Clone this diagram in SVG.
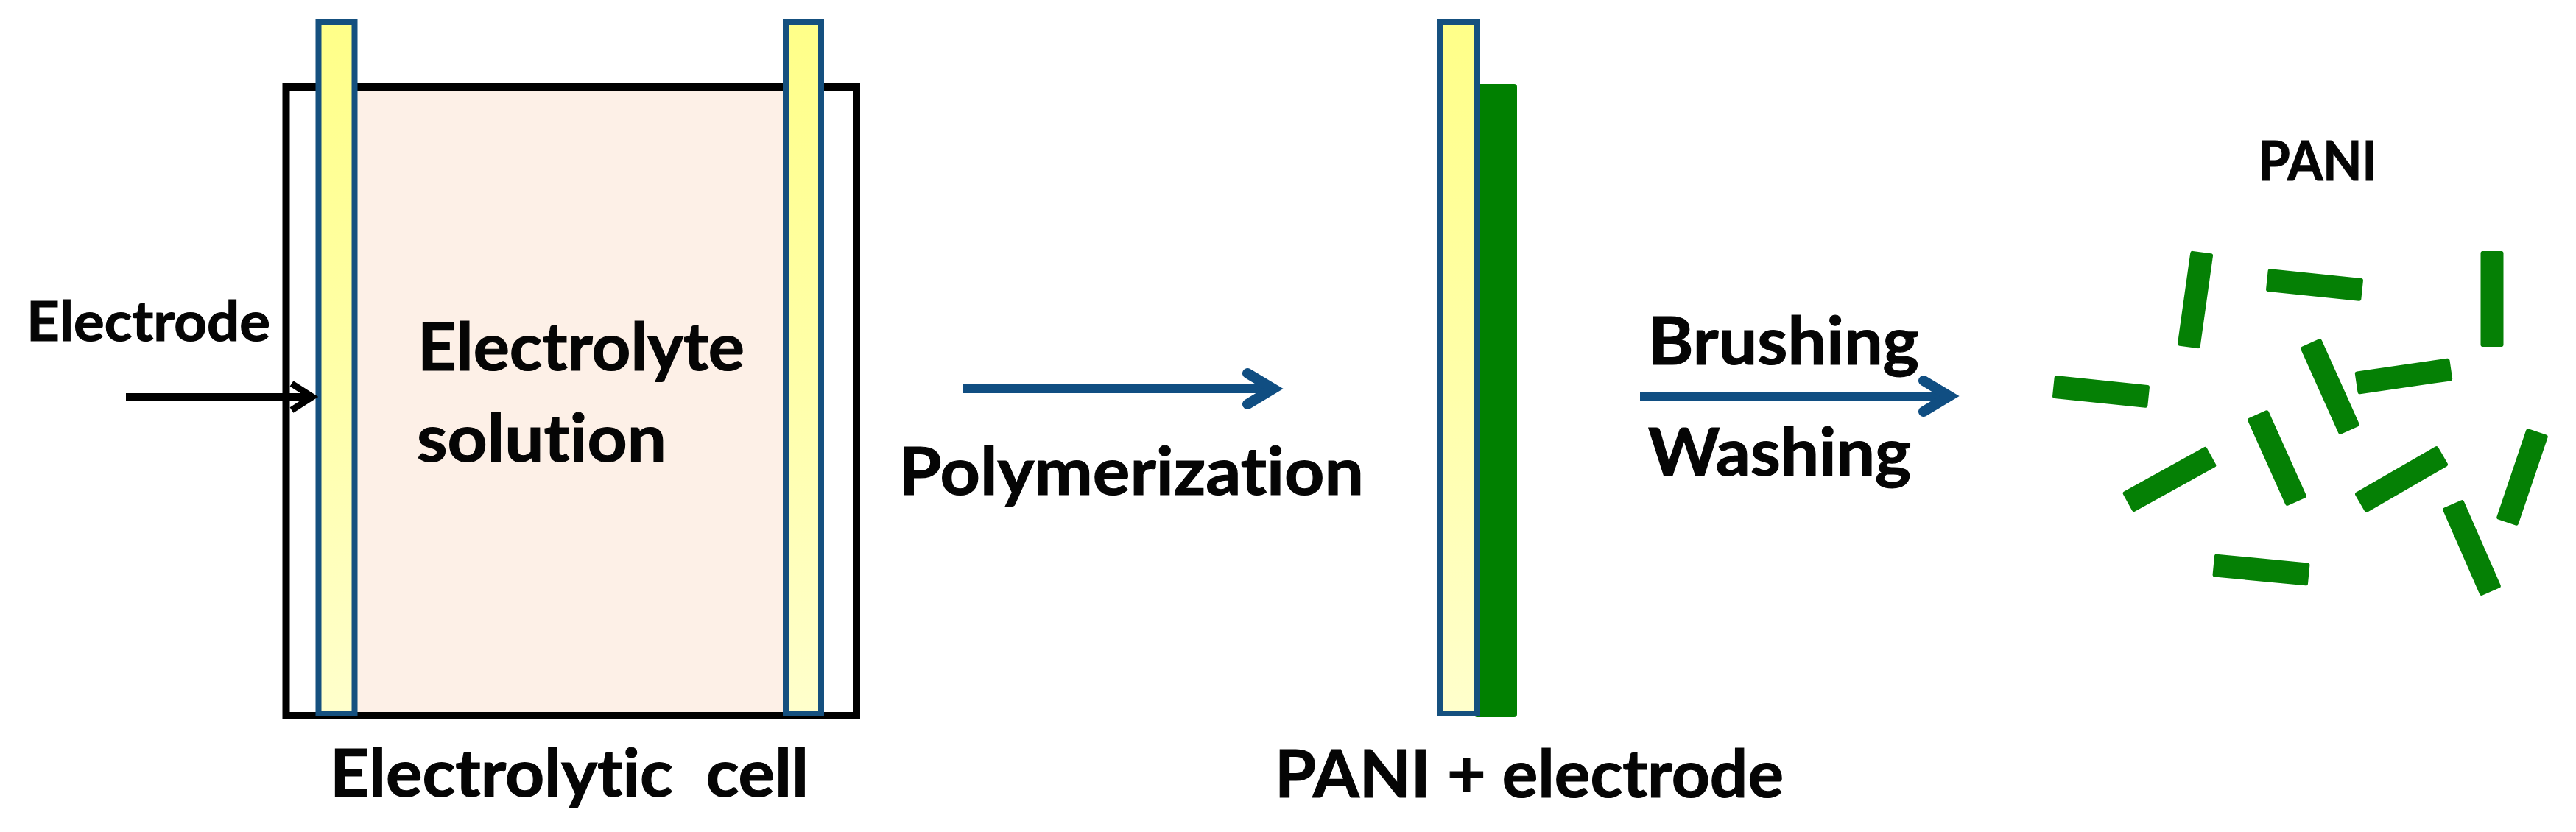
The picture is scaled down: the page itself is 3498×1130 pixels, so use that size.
<svg xmlns="http://www.w3.org/2000/svg" width="3498" height="1130" viewBox="0 0 3498 1130">
<style>
text{font-family:Lato,"Liberation Sans",sans-serif;font-weight:700;fill:#050505;stroke:#050505;stroke-width:1.2;font-variant-ligatures:none}
.big{font-size:90px}
.el{stroke:#15507f;stroke-width:8;fill:url(#yg)}
.rod{fill:#058005}
.conn{fill:none}
.blue{stroke:#104e82;stroke-width:12}
.blk{stroke:#000;stroke-width:10}
</style>
<defs>
<linearGradient id="yg" x1="0" y1="0" x2="0" y2="1"><stop offset="0" stop-color="#ffff88"/><stop offset="0.5" stop-color="#ffffa8"/><stop offset="1" stop-color="#ffffcc"/></linearGradient>
<marker id="hb" markerUnits="userSpaceOnUse" markerWidth="60" markerHeight="60" refX="0" refY="0" orient="auto" overflow="visible"><path d="M-35 -21 L0 0 L-35 21" fill="none" stroke="#104e82" stroke-width="14" stroke-linecap="round" stroke-linejoin="miter"/></marker>
<marker id="hk" markerUnits="userSpaceOnUse" markerWidth="50" markerHeight="50" refX="0" refY="0" orient="auto" overflow="visible"><path d="M-28 -18 L0 0 L-28 18" fill="none" stroke="#000" stroke-width="9"/></marker>
<rect id="rv" class="rod" x="-15.5" y="-65" width="31" height="130" rx="3"/>
<rect id="rh" class="rod" x="-65" y="-15.5" width="130" height="31" rx="3"/>
</defs>
<rect width="3498" height="1130" fill="#fff"/>
<g id="cell">
<rect x="484" y="118" width="580" height="854" fill="#fdf0e7"/>
<rect x="388.5" y="118" width="774.5" height="854" fill="none" stroke="#000" stroke-width="10"/>
<text x="448" y="1082" class="big" textLength="650" lengthAdjust="spacingAndGlyphs" xml:space="preserve">Electrolytic  cell</text>
</g>
<g id="solution">
<text x="567" y="503" class="big" textLength="444" lengthAdjust="spacingAndGlyphs">Electrolyte</text>
<text x="566" y="627" class="big" textLength="339" lengthAdjust="spacingAndGlyphs">solution</text>
</g>
<g id="electrode-left"><rect class="el" x="432.5" y="30" width="49" height="939"/></g>
<g id="electrode-right"><rect class="el" x="1067" y="30" width="48" height="939"/></g>
<g id="electrode-label"><text x="36" y="463" font-size="74" textLength="331" lengthAdjust="spacingAndGlyphs">Electrode</text></g>
<g id="polymerization"><text x="1220" y="672" class="big" textLength="632" lengthAdjust="spacingAndGlyphs">Polymerization</text></g>
<g id="pani-electrode">
<rect x="2002" y="114" width="58" height="860" rx="4" fill="#008000"/>
<rect class="el" x="1955" y="30" width="51" height="939"/>
<text x="1731" y="1083" class="big" textLength="691" lengthAdjust="spacingAndGlyphs">PANI + electrode</text>
</g>
<g id="brushing"><text x="2238" y="495" class="big" textLength="368" lengthAdjust="spacingAndGlyphs">Brushing</text></g>
<g id="washing"><text x="2238" y="646" class="big" textLength="357" lengthAdjust="spacingAndGlyphs">Washing</text></g>
<g id="pani">
<text x="3067" y="245" font-size="74" textLength="161" lengthAdjust="spacingAndGlyphs">PANI</text>
<use href="#rv" transform="translate(2981 407) rotate(8)"/>
<use href="#rh" transform="translate(3143 387) rotate(5.9)"/>
<use href="#rv" transform="translate(3384 406)"/>
<use href="#rh" transform="translate(2853 532) rotate(5.9)"/>
<use href="#rv" transform="translate(3164 525) rotate(-24.2)"/>
<use href="#rh" transform="translate(3264 511) rotate(-8.3)"/>
<use href="#rv" transform="translate(3092 622) rotate(-24.2)"/>
<use href="#rh" transform="translate(2946 651) rotate(-29)"/>
<use href="#rh" transform="translate(3261 651) rotate(-30)"/>
<use href="#rv" transform="translate(3425 648) rotate(18.7)"/>
<use href="#rv" transform="translate(3356.5 744) rotate(-23.6)"/>
<use href="#rh" transform="translate(3070.5 774) rotate(5.5)"/>
</g>
<g id="connectors">
<path class="conn blk" d="M171 539H424" marker-end="url(#hk)"/>
<path class="conn blue" d="M1307 528H1729" marker-end="url(#hb)"/>
<path class="conn blue" d="M2227 538H2647" marker-end="url(#hb)"/>
</g>
</svg>
